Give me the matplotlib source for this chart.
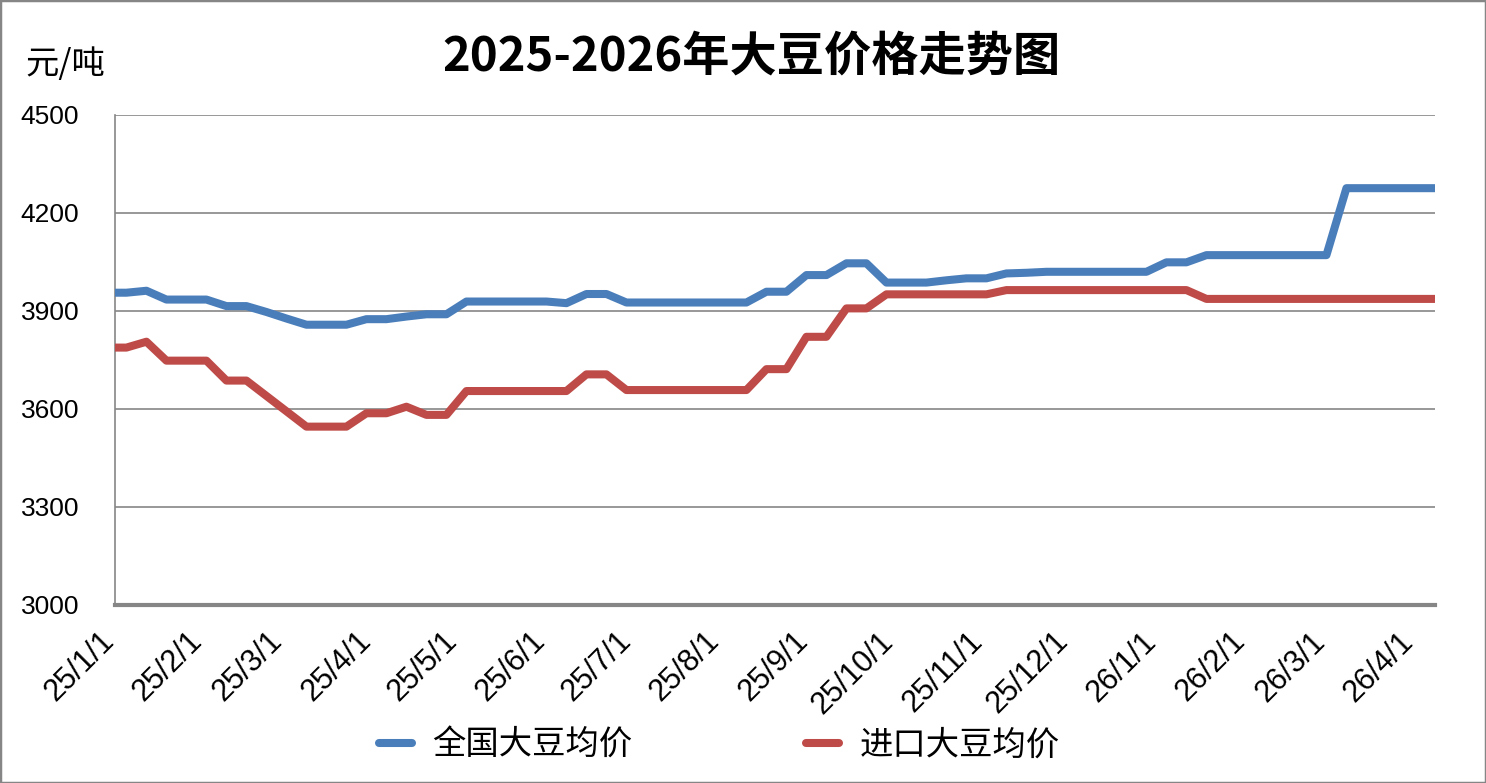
import matplotlib
matplotlib.use('Agg')
import matplotlib.pyplot as plt
import matplotlib.dates as mdates
from matplotlib.ticker import FuncFormatter
from matplotlib.patches import Rectangle
from matplotlib.lines import Line2D
import pandas as pd

plt.rcParams['font.family'] = ['Noto Sans CJK SC', 'DejaVu Sans']

# weekly quotes: 2025-01-01, every Sunday up to 2026-03-29, last quote 2026-04-08
dates = ([pd.Timestamp('2025-01-01')]
         + list(pd.date_range('2025-01-05', '2026-03-29', freq='7D'))
         + [pd.Timestamp('2026-04-08')])

national_avg = [
    3956, 3956, 3962, 3935, 3935, 3935, 3915, 3915, 3897, 3877,
    3858, 3858, 3858, 3875, 3875, 3883, 3890, 3890, 3929, 3929,
    3929, 3929, 3929, 3924, 3952, 3952, 3926, 3926, 3926, 3926,
    3926, 3926, 3926, 3959, 3959, 4010, 4010, 4046, 4046, 3987,
    3987, 3987, 3994, 4000, 4000, 4015, 4017, 4020, 4020, 4020,
    4020, 4020, 4020, 4049, 4049, 4071, 4071, 4071, 4071, 4071,
    4071, 4071, 4276, 4276, 4276, 4276, 4276,
]
import_avg = [
    3788, 3788, 3806, 3748, 3748, 3748, 3687, 3687, 3640, 3593,
    3546, 3546, 3546, 3587, 3587, 3607, 3582, 3582, 3655, 3655,
    3655, 3655, 3655, 3655, 3706, 3706, 3658, 3658, 3658, 3658,
    3658, 3658, 3658, 3722, 3722, 3821, 3821, 3908, 3908, 3951,
    3951, 3951, 3951, 3951, 3951, 3964, 3964, 3964, 3964, 3964,
    3964, 3964, 3964, 3964, 3964, 3937, 3937, 3937, 3937, 3937,
    3937, 3937, 3937, 3937, 3937, 3937, 3937,
]
series_names = ['全国大豆均价', '进口大豆均价']
series_colors = ['#4a7ebb', '#be4b48']
y_ticks = [3000, 3300, 3600, 3900, 4200, 4500]

fig = plt.figure(figsize=(14.86, 7.83), dpi=100)
fig.patches.append(Rectangle((0, 0), 1, 1, transform=fig.transFigure, fill=False,
                             edgecolor='#868686', linewidth=2.5))
ax = fig.add_axes([115 / 1486, 1 - 605 / 783, 1320 / 1486, 490 / 783])

ax.plot(dates, national_avg, color=series_colors[0], linewidth=5.8,
        solid_joinstyle='round', solid_capstyle='round', zorder=3)
ax.plot(dates, import_avg, color=series_colors[1], linewidth=5.8,
        solid_joinstyle='round', solid_capstyle='round', zorder=3)

ax.set_ylim(3000, 4500)
ax.set_yticks(y_ticks)
ax.set_xlim(dates[0], dates[-1])
ax.yaxis.grid(True, color='#868686', linewidth=1.2)
ax.set_axisbelow(True)

ax.xaxis.set_major_locator(mdates.MonthLocator())
ax.xaxis.set_major_formatter(FuncFormatter(
    lambda v, pos: '{}/{}/{}'.format(mdates.num2date(v).year % 100,
                                     mdates.num2date(v).month,
                                     mdates.num2date(v).day)))

for side in ['top', 'right']:
    ax.spines[side].set_visible(False)
ax.spines['left'].set_color('#868686')
ax.spines['left'].set_linewidth(1.2)
ax.spines['bottom'].set_color('#868686')
ax.spines['bottom'].set_linewidth(3)

ax.tick_params(axis='both', length=0)
# y labels start at a fixed left position, like the reference
ax.tick_params(axis='y', pad=68)
ax.tick_params(axis='x', pad=27)
for lab in ax.get_yticklabels():
    lab.set_fontfamily('Liberation Sans')
    lab.set_fontsize(19)
    lab.set_horizontalalignment('left')
for lab in ax.get_xticklabels():
    lab.set_fontfamily('Liberation Sans')
    lab.set_fontsize(22)
    lab.set_rotation(45)
    lab.set_horizontalalignment('right')
    lab.set_verticalalignment('baseline')
    lab.set_rotation_mode('anchor')

fig.text(0.506, 1 - 57 / 783, '2025-2026年大豆价格走势图', ha='center', va='center',
         fontsize=34, fontweight='bold')
fig.text(25 / 1486, 1 - 65 / 783, '元/吨', ha='left', va='center', fontsize=24,
         fontweight='medium')

handles = [Line2D([0], [0], color=c, linewidth=5.8, solid_capstyle='round') for c in series_colors]
fig.legend(handles, series_names, loc='center', bbox_to_anchor=(0.484, 1 - 745 / 783),
           ncol=2, frameon=False, fontsize=24, handlelength=1.0, handletextpad=0.6,
           columnspacing=5.2)

plt.savefig('out.png', dpi=100)
